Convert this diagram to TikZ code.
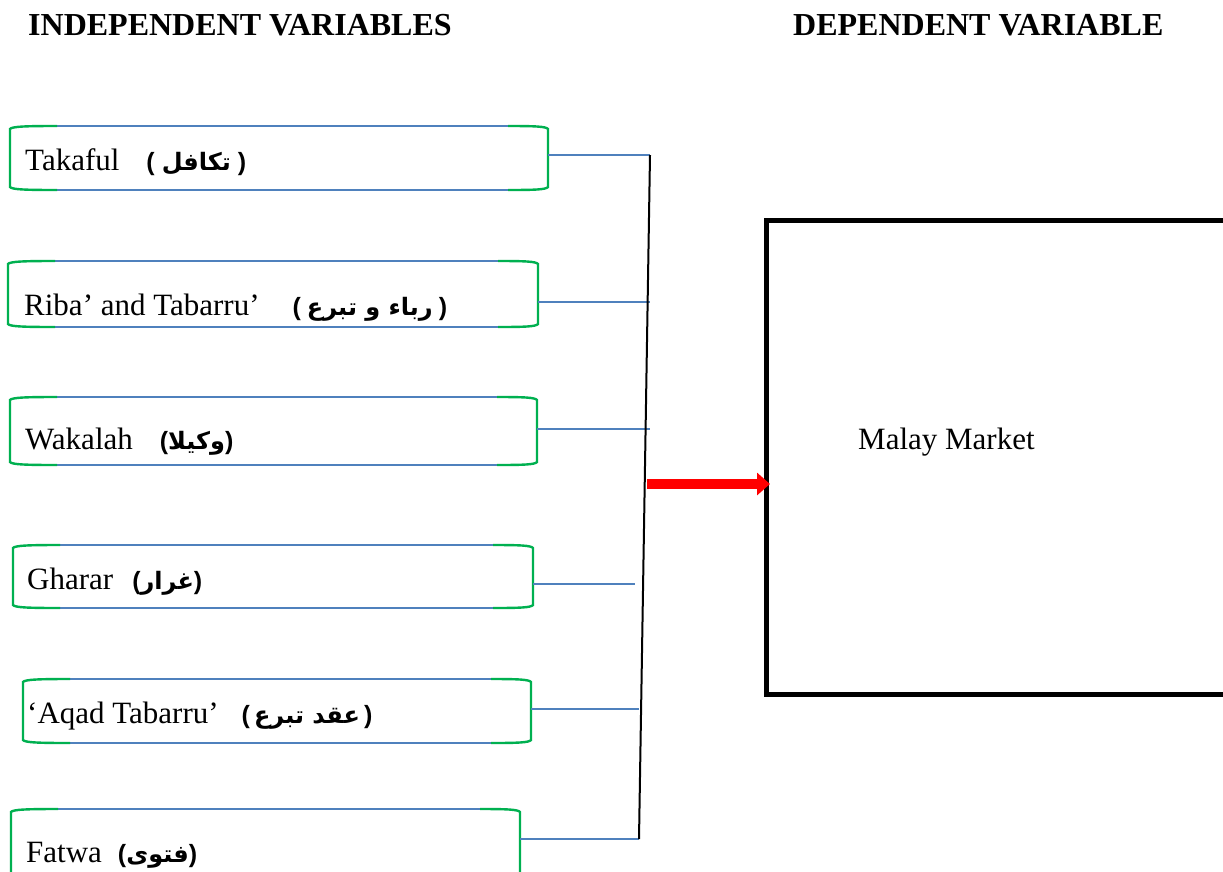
\documentclass[tikz,border=0pt]{standalone}
\usepackage{fontspec}
\setmainfont{Liberation Serif}
\newfontfamily\arfont[Script=Arabic]{DejaVu Sans}
\newfontfamily\parfont{Liberation Sans}
\TeXXeTstate=1
\usetikzlibrary{calc,arrows.meta}
\definecolor{obblue}{RGB}{79,129,189}
\definecolor{obgreen}{RGB}{0,176,80}
\newcommand\arb{\arfont\bfseries\fontsize{24}{30}\selectfont}
\newcommand\lp{{\parfont\bfseries\fontsize{25}{30}\selectfont (}}
\newcommand\rp{{\parfont\bfseries\fontsize{25}{30}\selectfont )}}
\tikzset{
  frame/.style={draw=none,inner sep=0,outer sep=0,rectangle},
  edgeb/.style={draw=obblue,line width=2pt},
  edgeg/.style={draw=obgreen,line width=2.4pt,line join=miter},
  lbl/.style={inner sep=0,anchor=base west,font=\fontsize{31}{37}\selectfont},
  head/.style={inner sep=0,anchor=base west,font=\fontsize{32}{38}\selectfont\bfseries},
  link/.style={draw=obblue,line width=2pt},
  spine/.style={draw=black,line width=2pt},
  dvbox/.style={draw=black,line width=5pt,inner sep=0,outer sep=0,rectangle},
  redarrow/.style={draw=red,line width=10pt,-{Triangle[length=13pt,width=22pt]}},
}
\newcommand\ivbox[5]{%
  \node[frame,anchor=north west,minimum width={#4pt-#2pt},minimum height={#5pt-#3pt}] (#1) at (#2,#3) {};
  \draw[edgeb] ($(#1.north west)+(30,0)$) -- ($(#1.north east)+(-40,0)$);
  \draw[edgeb] ($(#1.south west)+(30,0)$) -- ($(#1.south east)+(-40,0)$);
  \draw[edgeg] ($(#1.north west)+(47,0)$) .. controls ($(#1.north west)+(15,0)$) and ($(#1.north west)+(2,0.5)$) .. ($(#1.north west)+(0,3)$)
     -- ($(#1.south west)+(0,-3)$) .. controls ($(#1.south west)+(2,-0.5)$) and ($(#1.south west)+(15,0)$) .. ($(#1.south west)+(47,0)$);
  \draw[edgeg] ($(#1.north east)+(-40,0)$) .. controls ($(#1.north east)+(-12,0)$) and ($(#1.north east)+(-2,0.5)$) .. ($(#1.north east)+(0,3)$)
     -- ($(#1.south east)+(0,-3)$) .. controls ($(#1.south east)+(-2,-0.5)$) and ($(#1.south east)+(-12,0)$) .. ($(#1.south east)+(-40,0)$);
}
\begin{document}
\begin{tikzpicture}[x=1pt,y=-1pt]
\useasboundingbox (0,0) rectangle (1223,871);
\clip (0,0) rectangle (1223,871);
\fill[white] (0,0) rectangle (1223,871);

\node[head] (hi) at (28,35) {INDEPENDENT VARIABLES};
\node[head] (hd) at (793,35) {DEPENDENT VARIABLE};

\ivbox{b1}{10}{126}{548}{190}
\ivbox{b2}{8}{261}{538}{327}
\ivbox{b3}{10}{397}{537}{465}
\ivbox{b4}{13}{545}{533}{608}
\ivbox{b5}{23}{679}{531}{743}
\ivbox{b6}{11}{809}{520}{876}

\node[lbl] (t1) at (25,170) {Takaful\hspace{27pt}\lp\hspace{7pt}{\arb\beginR تكافل\endR}\hspace{7pt}\rp};
\node[lbl] (t2) at (24,315) {Riba’ and Tabarru’\hspace{33pt}\lp\hspace{6pt}{\arb\beginR رباء و تبرع\endR}\hspace{6pt}\rp};
\node[lbl] (t3) at (25,449) {Wakalah\hspace{27pt}\lp{\arb\beginR وكيلا\endR}\rp};
\node[lbl] (t4) at (27,589) {Gharar\hspace{19pt}\lp{\arb\beginR غرار\endR}\rp};
\node[lbl] (t5) at (27,723) {‘Aqad Tabarru’\hspace{23pt}\lp\hspace{4pt}{\arb\beginR عقد تبرع\endR}\hspace{4pt}\rp};
\node[lbl] (t6) at (26,862) {Fatwa\hspace{16pt}\lp{\arb\beginR فتوى\endR}\rp};

\coordinate (e1) at (650,155);
\coordinate (e2) at (650,302);
\coordinate (e3) at (650,429);
\coordinate (e4) at (635,584);
\coordinate (e5) at (639,709);
\coordinate (e6) at (639,839);
\draw[link] (b1.east |- e1) -- (e1);
\draw[link] (b2.east |- e2) -- (e2);
\draw[link] (b3.east |- e3) -- (e3);
\draw[link] (b4.east |- e4) -- (e4);
\draw[link] (b5.east |- e5) -- (e5);
\draw[link] (b6.east |- e6) -- (e6);

\coordinate (s1) at (650,155);
\coordinate (s2) at (639,839);
\draw[spine] (s1) -- (s2);

\node[dvbox,anchor=north west,minimum width=480pt,minimum height=474pt] (dv) at (766,220) {};
\node[lbl] (mm) at (858,449) {Malay Market};

\coordinate (a0) at (647,484);
\draw[redarrow] (a0) -- ($(dv.west |- a0)+(4,0)$);
\end{tikzpicture}
\end{document}
